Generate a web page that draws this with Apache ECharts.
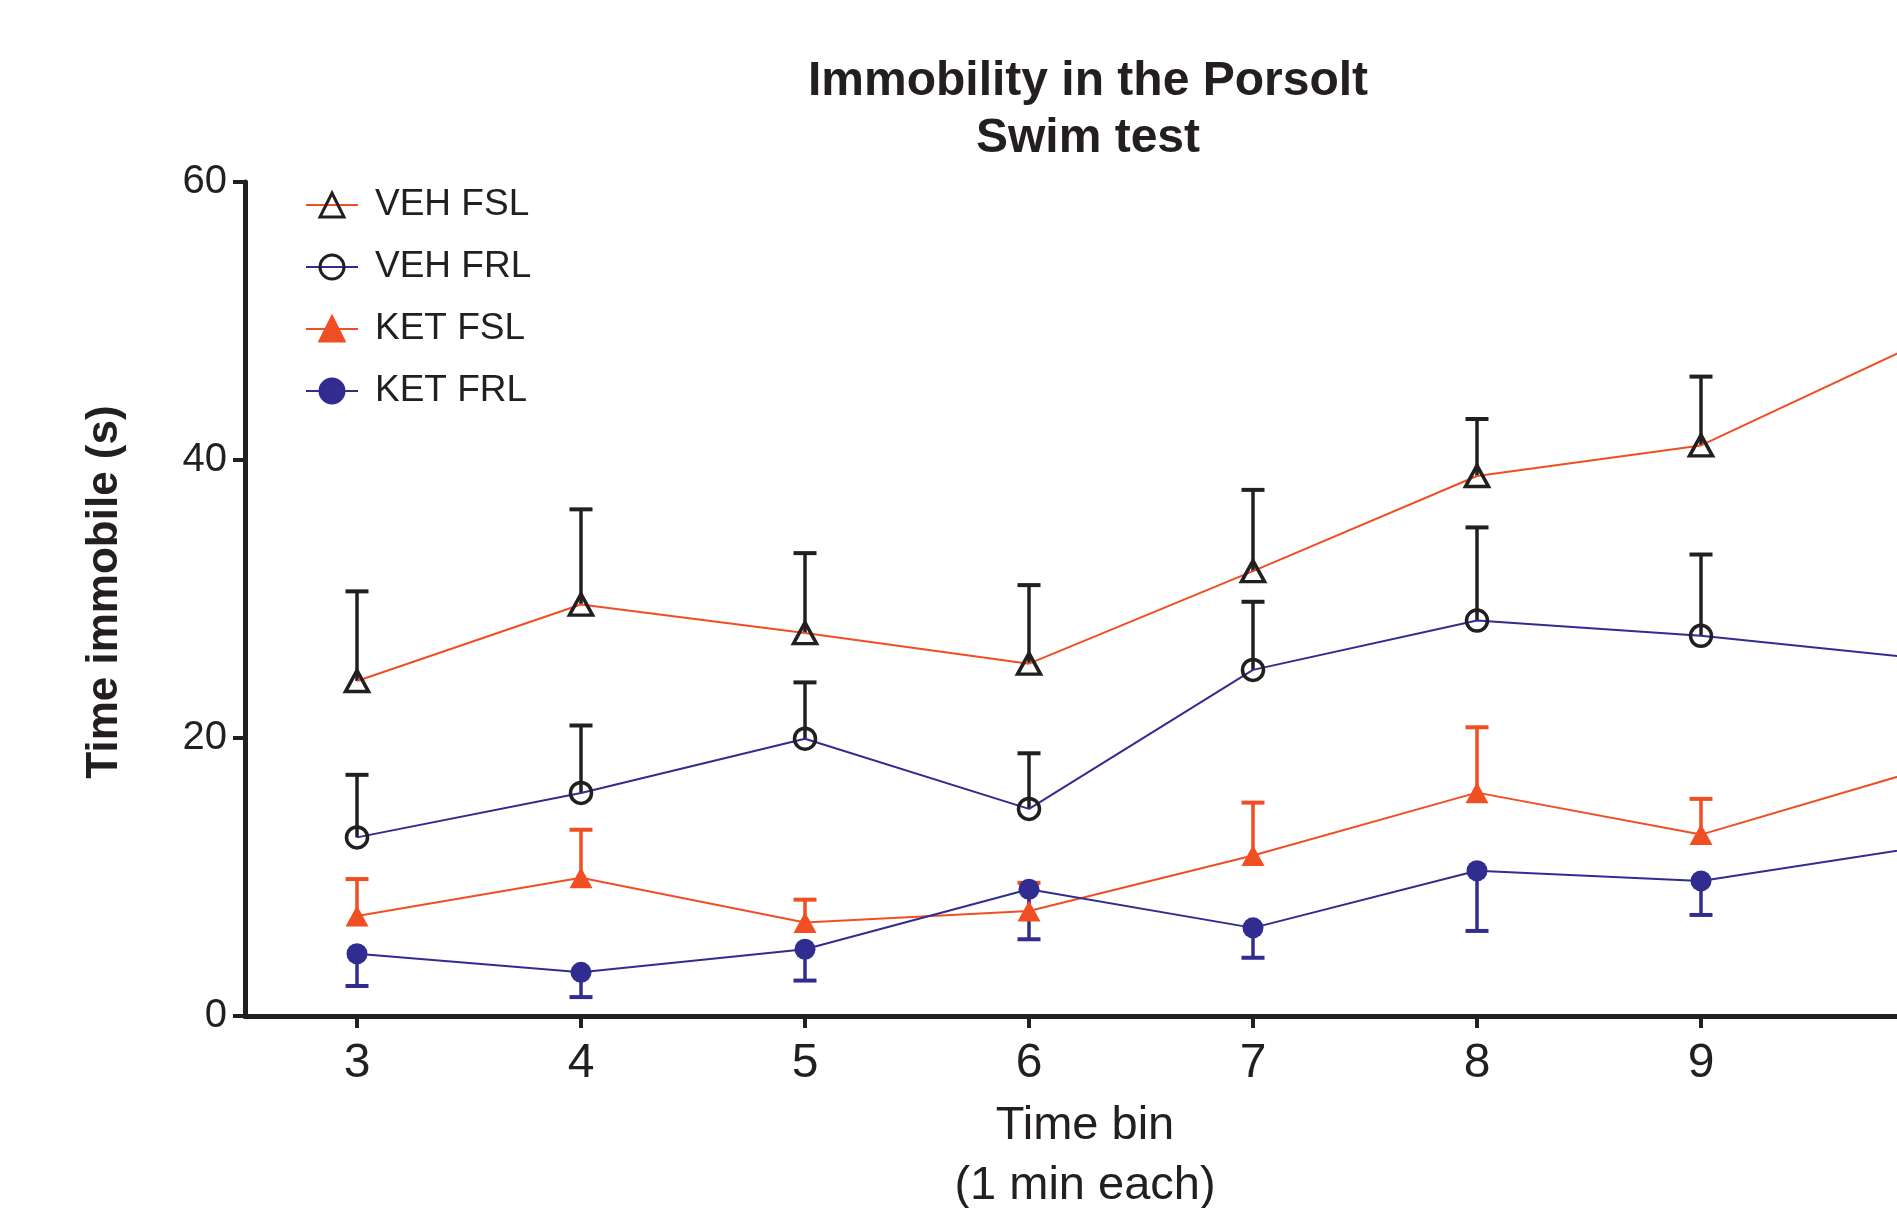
<!DOCTYPE html>
<html>
<head>
<meta charset="utf-8">
<script src="https://cdn.jsdelivr.net/npm/echarts@6/dist/echarts.min.js"></script>
<style>
  html, body { margin: 0; padding: 0; background: #fff; }
  #chart { width: 1897px; height: 1208px; }
</style>
</head>
<body>
<div id="chart"></div>
<script>
// time bins (1 min each); bin 10 sits just past the right edge of the figure
const timeBins = [3, 4, 5, 6, 7, 8, 9, 10]
const yTicks = [0, 20, 40, 60]

// mean time immobile (s)
const vehFsl = [24.1, 29.6, 27.55, 25.35, 32.0, 38.85, 41.05, 48.6]
const vehFrl = [12.85, 16.05, 19.95, 14.9, 24.9, 28.45, 27.35, 25.7]
const ketFsl = [7.2, 9.95, 6.72, 7.55, 11.55, 16.07, 13.05, 17.8]
const ketFrl = [4.48, 3.14, 4.8, 9.12, 6.34, 10.45, 9.72, 12.2]

// SEM (bar drawn one side only); bin 10 not visible
const vehFslSem = [6.45, 6.85, 5.75, 5.65, 5.85, 4.1, 4.95, null]
const vehFrlSem = [4.5, 4.85, 4.05, 4.0, 4.9, 6.7, 5.85, null]
const ketFslSem = [2.65, 3.45, 1.65, 2.03, 3.8, 4.7, 2.57, null]
const ketFrlSem = [2.32, 1.78, 2.25, 3.6, 2.15, 4.33, 2.45, null]

const ORANGE = '#f04e23'
const BLUE = '#312c8f'
const INK = '#231f20'
const FONT = '"Liberation Sans", Arial, Helvetica, sans-serif'

function pairs(values) {
  return timeBins.map((x, i) => [x, values[i]])
}

// [x, mean, end of bar]; dir = 1 up, -1 down
function errBars(values, sem, dir) {
  const out = []
  timeBins.forEach((x, i) => {
    if (sem[i] == null) return
    out.push([x, values[i], values[i] + dir * sem[i]])
  })
  return out
}

function errRender(color) {
  return function (params, api) {
    const p0 = api.coord([api.value(0), api.value(1)])
    const p1 = api.coord([api.value(0), api.value(2)])
    const half = 11.5
    return {
      type: 'group',
      children: [
        { type: 'line', shape: { x1: p0[0], y1: p0[1], x2: p1[0], y2: p1[1] }, style: { stroke: color, lineWidth: 3.5 } },
        { type: 'line', shape: { x1: p1[0] - half, y1: p1[1], x2: p1[0] + half, y2: p1[1] }, style: { stroke: color, lineWidth: 4 } },
      ],
    }
  }
}

function errSeries(name, data, color) {
  return {
    name,
    type: 'custom',
    renderItem: errRender(color),
    data,
    z: 1,
    silent: true,
    encode: { x: 0, y: [1, 2] },
  }
}

function lineSeries(name, values, lineColor, symbol, fill, border) {
  return {
    name,
    type: 'line',
    data: pairs(values),
    symbol,
    symbolSize: symbol === 'triangle' ? [23, 21] : 21,
    showAllSymbol: true,
    lineStyle: { color: lineColor, width: 2 },
    itemStyle: { color: fill, borderColor: border, borderWidth: fill === 'transparent' ? 3.5 : 0 },
    emphasis: { disabled: true },
    z: 3,
  }
}

const chart = echarts.init(document.getElementById('chart'), null, { renderer: 'canvas' })

chart.setOption({
  backgroundColor: '#ffffff',
  animation: false,
  title: {
    text: 'Immobility in the Porsolt\nSwim test',
    left: 1083,
    top: 48,
    textAlign: 'center',
    textStyle: { fontFamily: FONT, fontSize: 48, fontWeight: 'bold', color: INK, lineHeight: 57 },
  },
  legend: {
    orient: 'vertical',
    left: 300,
    top: 180,
    itemWidth: 52,
    itemHeight: 30,
    itemGap: 22,
    itemStyle: { borderWidth: 3 },
    textStyle: { fontFamily: FONT, fontSize: 37, color: INK, lineHeight: 40, padding: [0, 0, 0, 12] },
    data: ['VEH FSL', 'VEH FRL', 'KET FSL', 'KET FRL'],
  },
  grid: { left: 245, right: -28, top: 182, bottom: 192, containLabel: false, outerBoundsMode: 'none' },
  xAxis: {
    type: 'value',
    min: 2.5,
    max: 10,
    name: 'Time bin\n(1 min each)',
    nameLocation: 'middle',
    nameGap: 80,
    nameTextStyle: { fontFamily: FONT, fontSize: 47, color: INK, lineHeight: 60 },
    axisLine: { lineStyle: { color: INK, width: 5 } },
    axisTick: { show: true, length: 12, lineStyle: { color: INK, width: 4 }, customValues: timeBins },
    axisLabel: { fontFamily: FONT, fontSize: 48, color: INK, margin: 24, customValues: timeBins },
    splitLine: { show: false },
  },
  yAxis: {
    type: 'value',
    min: yTicks[0],
    max: yTicks[yTicks.length - 1],
    interval: 20,
    name: 'Time immobile (s)',
    nameLocation: 'middle',
    nameRotate: 90,
    nameGap: 118,
    nameTextStyle: { fontFamily: FONT, fontSize: 44, fontWeight: 'bold', color: INK, padding: [0, 0, 0, 14] },
    axisLine: { show: true, lineStyle: { color: INK, width: 5 } },
    axisTick: { show: true, length: 12, lineStyle: { color: INK, width: 4 } },
    axisLabel: { fontFamily: FONT, fontSize: 40, color: INK, margin: 18 },
    splitLine: { show: false },
  },
  series: [
    errSeries('VEH FSL sem', errBars(vehFsl, vehFslSem, 1), INK),
    errSeries('VEH FRL sem', errBars(vehFrl, vehFrlSem, 1), INK),
    errSeries('KET FSL sem', errBars(ketFsl, ketFslSem, 1), ORANGE),
    errSeries('KET FRL sem', errBars(ketFrl, ketFrlSem, -1), BLUE),
    lineSeries('VEH FSL', vehFsl, ORANGE, 'triangle', 'transparent', INK),
    lineSeries('VEH FRL', vehFrl, BLUE, 'circle', 'transparent', INK),
    lineSeries('KET FSL', ketFsl, ORANGE, 'triangle', ORANGE, ORANGE),
    lineSeries('KET FRL', ketFrl, BLUE, 'circle', BLUE, BLUE),
  ],
})
</script>
</body>
</html>
